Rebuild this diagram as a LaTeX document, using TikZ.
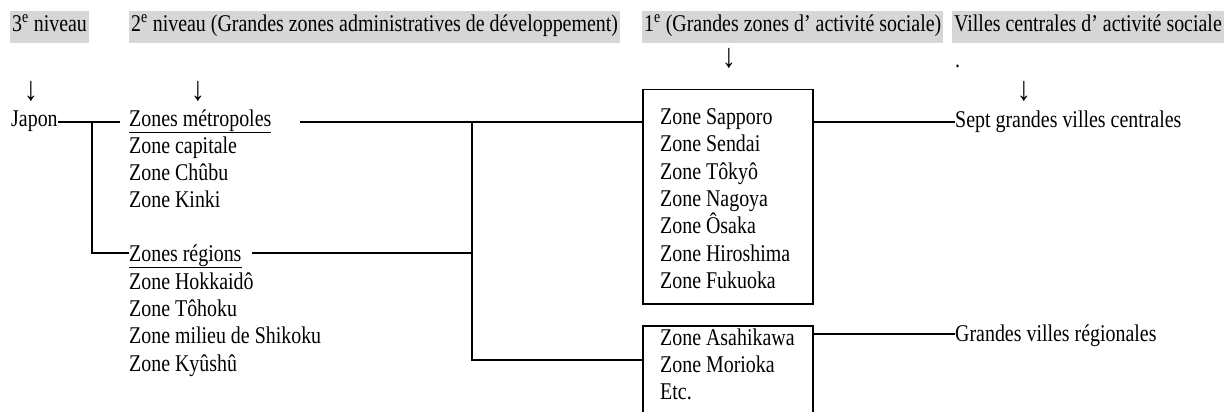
\documentclass[tikz,border=0pt]{standalone}
\usepackage{fontspec}
\setmainfont{Liberation Serif}[FakeStretch=0.83]
\definecolor{hdrgray}{RGB}{214,214,214}
\begin{document}
\begin{tikzpicture}[x=1pt,y=-1pt,
  txt/.style={anchor=base west, inner sep=0pt, font=\fontsize{24}{27}\selectfont},
  hdr/.style={anchor=base west, fill=hdrgray, inner xsep=2pt, inner ysep=0pt,
              text height=21pt, text depth=11pt, font=\fontsize{24}{27}\selectfont},
  arr/.style={anchor=center, inner sep=0pt, font=\fontsize{34}{36}\selectfont},
  conn/.style={line width=1.5pt},
  zonebox/.style={draw, line width=1.5pt, anchor=north west, minimum width=170pt, inner sep=0pt}
]
\useasboundingbox (0,0) rectangle (1224,412);

% headers
\node[hdr] (h3) at (10,32) {3\textsuperscript{e} niveau};
\node[hdr] (h2) at (129,32) {2\textsuperscript{e} niveau (Grandes zones administratives de développement)};
\node[hdr] (h1) at (642,32) {1\textsuperscript{e} (Grandes zones d’ activité sociale)};
\node[hdr] (hv) at (952,32) {Villes centrales d’ activité sociale};

% arrows and dot
\node[arr] (a3) at (31,91) {↓};
\node[arr] (a2) at (198,91) {↓};
\node[arr] (a1) at (729,58) {↓};
\node[txt] (dot) at (955,68) {.};
\node[arr] (av) at (1024,91) {↓};

% left column
\node[txt] (japon) at (11,126) {Japon};
\node[txt] (metro) at (129,126) {\underline{Zones métropoles}};
\node[txt] (capitale) at (129,153) {Zone capitale};
\node[txt] (chubu) at (129,180) {Zone Chûbu};
\node[txt] (kinki) at (129,207) {Zone Kinki};
\node[txt] (regions) at (129,261) {\underline{Zones régions}};
\node[txt] (hokkaido) at (129,289) {Zone Hokkaidô};
\node[txt] (tohoku) at (129,316) {Zone Tôhoku};
\node[txt] (shikoku) at (129,343) {Zone milieu de Shikoku};
\node[txt] (kyushu) at (129,371) {Zone Kyûshû};

% boxes
\node[zonebox, minimum height=214pt] (topbox) at (642,89) {};
\node[zonebox, minimum height=100pt] (botbox) at (642,325) {};

\node[txt] (sapporo) at (660,124.5) {Zone Sapporo};
\node[txt] (sendai) at (660,151.8) {Zone Sendai};
\node[txt] (tokyo) at (660,179) {Zone Tôkyô};
\node[txt] (nagoya) at (660,206.4) {Zone Nagoya};
\node[txt] (osaka) at (660,233.7) {Zone Ôsaka};
\node[txt] (hiroshima) at (660,261) {Zone Hiroshima};
\node[txt] (fukuoka) at (660,288.3) {Zone Fukuoka};

\node[txt] (asahikawa) at (660,345) {Zone Asahikawa};
\node[txt] (morioka) at (660,372) {Zone Morioka};
\node[txt] (etc) at (660,399) {Etc.};

% right column
\node[txt] (sept) at (955,128) {Sept grandes villes centrales};
\node[txt] (grandes) at (955,341) {Grandes villes régionales};

% connector coordinates
\coordinate (jsplit) at (92,122);
\coordinate (jEnd) at (120,122);
\coordinate (metroEnd) at (300,122);
\coordinate (regEnd) at (252,253);
\coordinate (bus) at (472,122);

% connectors
\draw[conn] (japon.east |- jsplit) -- (jEnd);
\draw[conn] (jsplit) |- (regions.west |- regEnd);
\draw[conn] (metroEnd) -- (topbox.west |- metroEnd);
\draw[conn] (regEnd) -- (bus |- regEnd);
\draw[conn] (bus) |- (botbox.west |- 0,360);
\draw[conn] (topbox.east |- metroEnd) -- (sept.west |- metroEnd);
\draw[conn] (botbox.east |- 0,334) -- (grandes.west |- 0,334);
\end{tikzpicture}
\end{document}
